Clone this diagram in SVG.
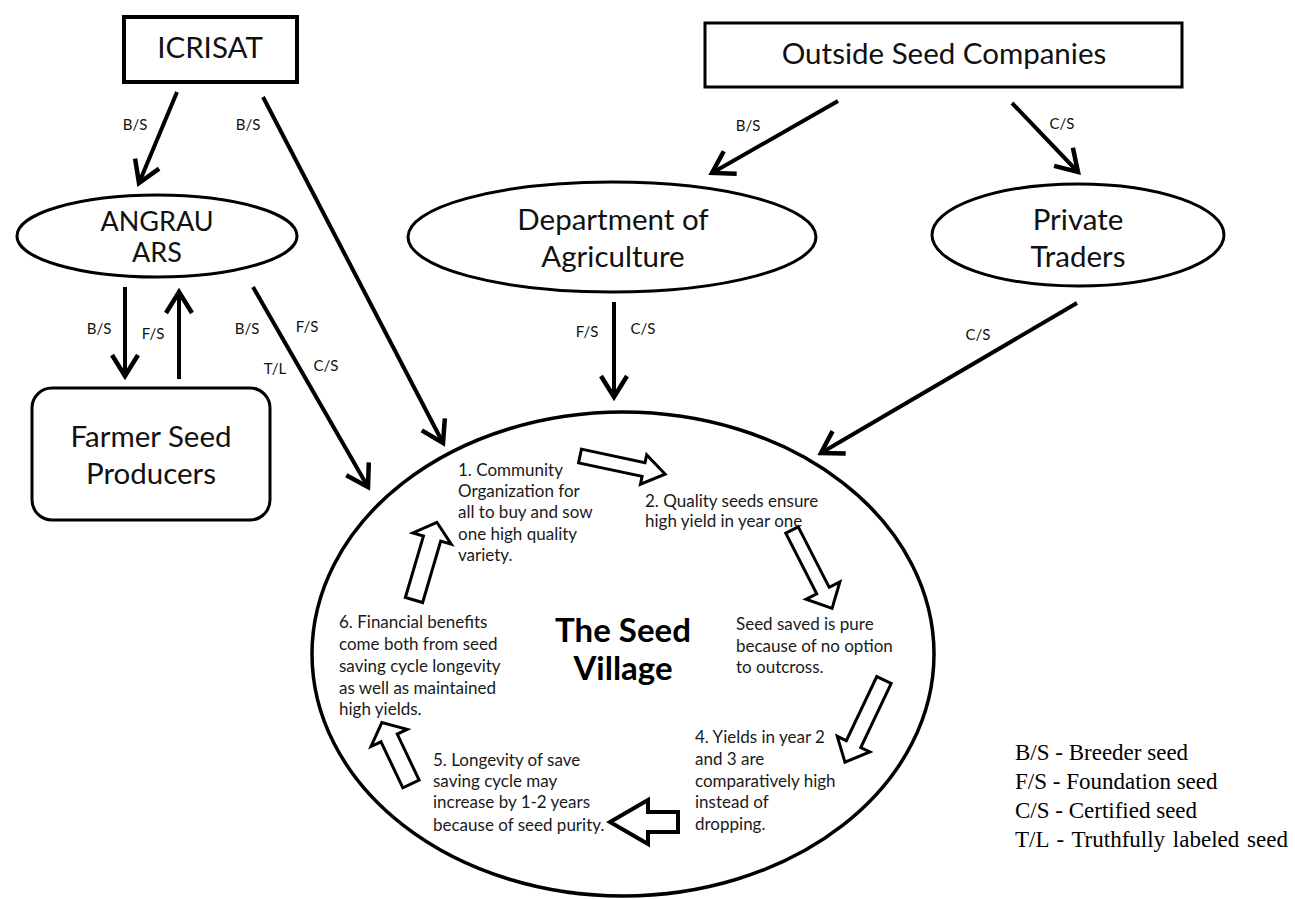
<svg xmlns="http://www.w3.org/2000/svg" width="1295" height="899" viewBox="0 0 1295 899">
<defs>
<style>
.node{fill:#fff;stroke:#000;stroke-width:3}
.lbl{font-family:Lato,"Open Sans","DejaVu Sans",sans-serif;font-size:29.5px;fill:#111;text-anchor:middle}
.al{font-family:Lato,"Open Sans","DejaVu Sans",sans-serif;font-size:15px;fill:#111;text-anchor:middle}
.conn{stroke:#000;stroke-width:4;fill:none;marker-end:url(#ah)}
.body{font-family:Lato,"Open Sans","DejaVu Sans",sans-serif;font-size:17px;fill:#1a1a1a}
.title{font-family:Lato,"Open Sans","DejaVu Sans",sans-serif;font-size:33px;font-weight:bold;fill:#000;text-anchor:middle}
.blk{fill:#fff;stroke:#000;stroke-width:3;stroke-linejoin:miter}
.leg{font-family:"Liberation Serif","Times New Roman",serif;font-size:23px;fill:#000}
</style>
<marker id="ah" markerUnits="userSpaceOnUse" viewBox="-26 -16 30 32" markerWidth="30" markerHeight="32" refX="0" refY="0" orient="auto">
<path d="M-21,-13 L0,0 L-21,13" fill="none" stroke="#000" stroke-width="4.5"/>
</marker>
</defs>
<rect width="1295" height="899" fill="#fff"/>

<g id="icrisat">
<rect class="node" x="124" y="17" width="173" height="65" style="stroke-width:4"/>
<text class="lbl" x="210" y="58">ICRISAT</text>
</g>
<g id="outside-seed-companies">
<rect class="node" x="705" y="23" width="477" height="64"/>
<text class="lbl" x="944" y="64">Outside Seed Companies</text>
</g>
<g id="angrau-ars">
<ellipse class="node" cx="157" cy="236" rx="140" ry="41"/>
<text class="lbl" x="157" y="231" style="font-size:27px">ANGRAU</text>
<text class="lbl" x="157" y="262" style="font-size:27px">ARS</text>
</g>
<g id="department-of-agriculture">
<ellipse class="node" cx="612" cy="237" rx="204" ry="55"/>
<text class="lbl" x="613" y="230">Department of</text>
<text class="lbl" x="613" y="267">Agriculture</text>
</g>
<g id="private-traders">
<ellipse class="node" cx="1078" cy="235" rx="146" ry="51"/>
<text class="lbl" x="1078" y="230">Private</text>
<text class="lbl" x="1078" y="267">Traders</text>
</g>
<g id="farmer-seed-producers">
<rect class="node" x="32" y="388" width="238" height="132" rx="20" ry="20"/>
<text class="lbl" x="151" y="447">Farmer Seed</text>
<text class="lbl" x="151" y="484">Producers</text>
</g>

<g id="seed-village">
<ellipse class="node" cx="623" cy="654" rx="311" ry="242" style="stroke-width:3.5"/>
<text class="title" x="623" y="642">The Seed</text>
<text class="title" x="623" y="680">Village</text>
<text class="body" x="458" y="476">1. Community</text>
<text class="body" x="458" y="497">Organization for</text>
<text class="body" x="458" y="518">all to buy and sow</text>
<text class="body" x="458" y="540">one high quality</text>
<text class="body" x="458" y="561">variety.</text>
<text class="body" x="645" y="507">2. Quality seeds ensure</text>
<text class="body" x="645" y="527">high yield in year one</text>
<text class="body" x="736" y="630">Seed saved is pure</text>
<text class="body" x="736" y="652">because of no option</text>
<text class="body" x="736" y="673">to outcross.</text>
<text class="body" x="695" y="743">4. Yields in year 2</text>
<text class="body" x="695" y="765">and 3 are</text>
<text class="body" x="695" y="787">comparatively high</text>
<text class="body" x="695" y="808">instead of</text>
<text class="body" x="695" y="830">dropping.</text>
<text class="body" x="433" y="766">5. Longevity of save</text>
<text class="body" x="433" y="787">saving cycle may</text>
<text class="body" x="433" y="808">increase by 1-2 years</text>
<text class="body" x="433" y="831">because of seed purity.</text>
<text class="body" x="339" y="628">6. Financial benefits</text>
<text class="body" x="339" y="650">come both from seed</text>
<text class="body" x="339" y="672">saving cycle longevity</text>
<text class="body" x="339" y="694">as well as maintained</text>
<text class="body" x="339" y="715">high yields.</text>
<polygon class="blk" transform="translate(580,456) rotate(12)" points="0,-7 65,-7 65,-15 87,0 65,15 65,7 0,7"/>
<polygon class="blk" transform="translate(792,530) rotate(62.9)" points="0,-7 68,-7 68,-19 88,0 68,19 68,7 0,7"/>
<polygon class="blk" transform="translate(884,680) rotate(115.4)" points="0,-8 71,-8 71,-18 91,0 71,18 71,8 0,8"/>
<polygon class="blk" transform="translate(678,822) rotate(180)" points="0,-10 30,-10 30,-22 68,0 30,22 30,10 0,10" style="stroke-width:4"/>
<polygon class="blk" transform="translate(411,784) rotate(-115.4)" points="0,-9 51,-9 51,-20 68,0 51,20 51,9 0,9"/>
<polygon class="blk" transform="translate(414,600) rotate(-73.6)" points="0,-9 64,-9 64,-20 81,0 64,20 64,9 0,9"/>
</g>

<g id="connectors">
<line class="conn" x1="177" y1="92" x2="139" y2="183"/>
<line class="conn" x1="263" y1="97" x2="443" y2="443"/>
<line class="conn" x1="125" y1="287" x2="125" y2="376"/>
<line class="conn" x1="179" y1="379" x2="179" y2="292"/>
<line class="conn" x1="253" y1="287" x2="368" y2="487"/>
<line class="conn" x1="838" y1="101" x2="712" y2="173"/>
<line class="conn" x1="1012" y1="103" x2="1078" y2="172"/>
<line class="conn" x1="614" y1="302" x2="614" y2="397"/>
<line class="conn" x1="1077" y1="303" x2="821" y2="453"/>
<text class="al" x="135" y="130">B/S</text>
<text class="al" x="248" y="130">B/S</text>
<text class="al" x="99" y="334">B/S</text>
<text class="al" x="153" y="339">F/S</text>
<text class="al" x="247" y="334">B/S</text>
<text class="al" x="307" y="332">F/S</text>
<text class="al" x="275" y="374">T/L</text>
<text class="al" x="326" y="371">C/S</text>
<text class="al" x="748" y="131">B/S</text>
<text class="al" x="1062" y="129">C/S</text>
<text class="al" x="587" y="337">F/S</text>
<text class="al" x="643" y="334">C/S</text>
<text class="al" x="978" y="340">C/S</text>
</g>

<g id="legend">
<text class="leg" x="1015" y="760">B/S - Breeder seed</text>
<text class="leg" x="1015" y="789">F/S - Foundation seed</text>
<text class="leg" x="1015" y="818">C/S - Certified seed</text>
<text class="leg" x="1015" y="847" style="word-spacing:2px">T/L - Truthfully labeled seed</text>
</g>
</svg>
